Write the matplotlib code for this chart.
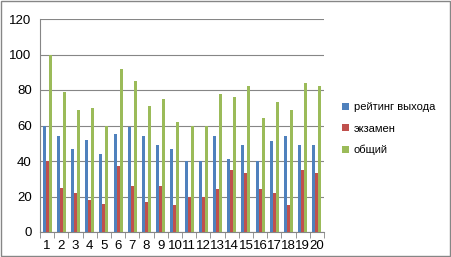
import matplotlib
matplotlib.use("Agg")
import matplotlib.pyplot as plt
import numpy as np
from matplotlib.patches import Rectangle

categories = [str(i) for i in range(1, 21)]
rating = [60, 54, 47, 52, 44, 55, 59, 54, 49, 47, 40, 40, 54, 41, 49, 40, 51, 54, 49, 49]
exam = [40, 25, 22, 18, 16, 37, 26, 17, 26, 15, 20, 20, 24, 35, 33, 24, 22, 15, 35, 33]
total = [100, 79, 69, 70, 60, 92, 85, 71, 75, 62, 60, 60, 78, 76, 82, 64, 73, 69, 84, 82]
series_names = ["рейтинг выхода", "экзамен", "общий"]
yticks = [0, 20, 40, 60, 80, 100, 120]

plt.rcParams['font.family'] = ['Liberation Sans', 'DejaVu Sans']
fig = plt.figure(figsize=(4.52, 2.57), dpi=100)
ax = fig.add_axes([40/452, 1 - 232/257, 284/452, 213/257])

x = np.arange(len(categories))
w = 0.21
colors = ["#4F81BD", "#C0504D", "#9BBB59"]
for i, (vals, name) in enumerate(zip([rating, exam, total], series_names)):
    ax.bar(x + (i - 1) * w, vals, w, color=colors[i], label=name, zorder=3)

ax.set_xlim(-0.5, len(categories) - 0.5)
ax.set_ylim(0, 120)
ax.set_yticks(yticks)
ax.set_xticks(x)
ax.set_xticklabels(categories)
ax.set_xticks(np.arange(-0.5, len(categories)), minor=True)
ax.tick_params(axis='x', which='major', length=0, labelsize=9.5, pad=6)
ax.tick_params(axis='x', which='minor', length=4, color='#868686')
ax.tick_params(axis='y', length=0, labelsize=9.5, pad=6)
ax.grid(axis='y', color='#868686', linewidth=0.8, zorder=0)
for s in ['top', 'right']:
    ax.spines[s].set_visible(False)
ax.spines['left'].set_color('#868686')
ax.spines['bottom'].set_color('#868686')

leg = fig.legend(loc='upper left', bbox_to_anchor=(338/452, 1 - 98/257), frameon=False,
                 fontsize=8, handlelength=0.6, handleheight=0.6, handletextpad=0.4,
                 labelspacing=1.0, borderaxespad=0)

fig.patches.append(Rectangle((0.003, 0.005), 0.992, 0.99, transform=fig.transFigure,
                             fill=False, edgecolor='#868686', linewidth=1.0))
fig.savefig("out.png", dpi=100)
